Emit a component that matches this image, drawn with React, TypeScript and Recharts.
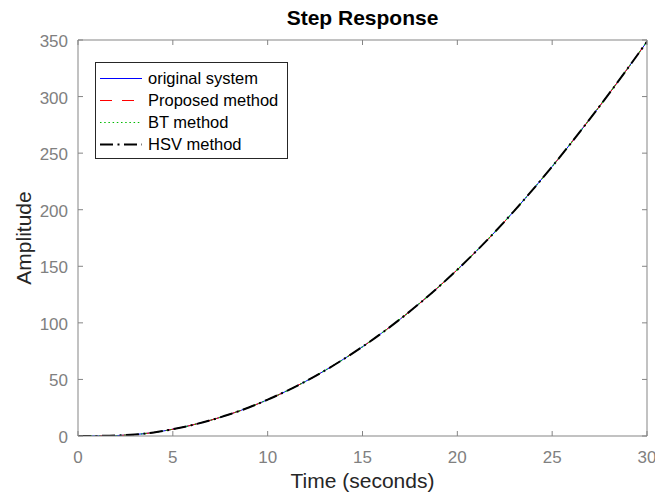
import { LineChart, Line, XAxis, YAxis, Legend, Label } from "recharts";

// step response samples, one per second
const time = [
  0, 1, 2, 3, 4, 5, 6, 7, 8, 9, 10, 11, 12, 13, 14, 15, 16, 17, 18, 19, 20,
  21, 22, 23, 24, 25, 26, 27, 28, 29, 30,
];
const original = [
  0, 0.1, 0.4, 1.3, 3.1, 6, 9.6, 14, 19.2, 25.2, 32.1, 39.8, 48.3, 57.7, 67.9,
  78.9, 90.8, 103.5, 117.1, 131.6, 147, 163.4, 180.7, 199, 218.2, 238.2, 259,
  280.5, 302.6, 325.3, 348.6,
];
const proposed = [
  0, 0.1, 0.4, 1.3, 3.1, 6, 9.6, 14, 19.2, 25.2, 32.1, 39.8, 48.3, 57.7, 67.9,
  78.9, 90.8, 103.5, 117.1, 131.6, 147, 163.4, 180.7, 199, 218.2, 238.2, 259,
  280.5, 302.6, 325.3, 348.6,
];
const bt = [
  0, 0.1, 0.4, 1.3, 3.1, 6, 9.6, 14, 19.2, 25.2, 32.1, 39.8, 48.3, 57.7, 67.9,
  78.9, 90.8, 103.5, 117.1, 131.6, 147, 163.4, 180.7, 199, 218.2, 238.2, 259,
  280.5, 302.6, 325.3, 348.6,
];
const hsv = [
  0, 0.1, 0.4, 1.3, 3.1, 6, 9.6, 14, 19.2, 25.2, 32.1, 39.8, 48.3, 57.7, 67.9,
  78.9, 90.8, 103.5, 117.1, 131.6, 147, 163.4, 180.7, 199, 218.2, 238.2, 259,
  280.5, 302.6, 325.3, 348.6,
];

const xTicks = [0, 5, 10, 15, 20, 25, 30];
const yTicks = [0, 50, 100, 150, 200, 250, 300, 350];

const data = time.map((t, i) => ({
  t,
  original: original[i],
  proposed: proposed[i],
  bt: bt[i],
  hsv: hsv[i],
}));

// the BT curve is tied to the top/right axes so those get drawn too (same domains)
const SERIES = [
  { key: "original", name: "original system", color: "#0000ff", width: 1, dash: undefined, xId: "bottom", yId: "left" },
  { key: "proposed", name: "Proposed method", color: "#ff0000", width: 1, dash: "12 10", xId: "bottom", yId: "left" },
  { key: "bt", name: "BT method", color: "#00bb00", width: 1.2, dash: "1.5 2.7", xId: "top", yId: "right" },
  { key: "hsv", name: "HSV method", color: "#000000", width: 2, dash: "13 4.5 2 4.5", xId: "bottom", yId: "left" },
];

const FONT = '"Liberation Sans", Arial, sans-serif';
const AXIS = "#858585";
const TICK_TEXT = "#808080";
const TICK_LEN = 5;

// MATLAB-style ticks: short marks pointing into the plot box
// eslint-disable-next-line @typescript-eslint/no-explicit-any
const BottomTick = ({ x, y, payload }: any) => (
  <g>
    <line x1={x} x2={x} y1={y} y2={y - TICK_LEN} stroke={AXIS} />
    <text x={x} y={y + 27} textAnchor="middle" fill={TICK_TEXT} fontSize={17}>
      {payload.value}
    </text>
  </g>
);

// eslint-disable-next-line @typescript-eslint/no-explicit-any
const LeftTick = ({ x, y, payload }: any) => (
  <g>
    <line x1={x} x2={x + TICK_LEN} y1={y} y2={y} stroke={AXIS} />
    <text x={x - 10} y={y + 7} textAnchor="end" fill={TICK_TEXT} fontSize={17}>
      {payload.value}
    </text>
  </g>
);

// eslint-disable-next-line @typescript-eslint/no-explicit-any
const TopTick = ({ x, y }: any) => (
  <line x1={x} x2={x} y1={y} y2={y + TICK_LEN} stroke={AXIS} />
);

// eslint-disable-next-line @typescript-eslint/no-explicit-any
const RightTick = ({ x, y }: any) => (
  <line x1={x} x2={x - TICK_LEN} y1={y} y2={y} stroke={AXIS} />
);

const LegendBox = () => (
  <div
    style={{
      border: "1px solid #262626",
      background: "#fff",
      padding: "4px 0 3px 4px",
      width: 193,
      boxSizing: "border-box",
      fontFamily: FONT,
    }}
  >
    {SERIES.map((s) => (
      <div
        key={s.key}
        style={{ display: "flex", alignItems: "center", height: 22, whiteSpace: "nowrap" }}
      >
        <svg width={42} height={10} style={{ flexShrink: 0 }}>
          <line
            x1={0}
            x2={42}
            y1={5.5}
            y2={5.5}
            stroke={s.color}
            strokeWidth={s.width}
            strokeDasharray={s.dash}
          />
        </svg>
        <span style={{ marginLeft: 6, fontSize: 16.5, color: "#000", lineHeight: "22px" }}>
          {s.name}
        </span>
      </div>
    ))}
  </div>
);

export default function App() {
  return (
    <div style={{ position: "absolute", left: 0, top: 0, fontFamily: FONT, background: "#fff" }}>
      <div
        style={{
          position: "absolute",
          left: 78,
          top: 5,
          width: 569,
          textAlign: "center",
          fontSize: 21,
          fontWeight: "bold",
          lineHeight: "26px",
          color: "#000",
          zIndex: 1,
        }}
      >
        Step Response
      </div>
      <LineChart
        width={655}
        height={493}
        data={data}
        margin={{ top: 39, right: 7, bottom: 0, left: 0 }}
        style={{ fontFamily: FONT }}
      >
        <XAxis
          xAxisId="bottom"
          orientation="bottom"
          dataKey="t"
          type="number"
          domain={[0, 30]}
          ticks={xTicks}
          height={57}
          tickLine={false}
          tickSize={0}
          tickMargin={0}
          tick={<BottomTick />}
          axisLine={{ stroke: AXIS }}
          allowDataOverflow
        >
          <Label
            value="Time (seconds)"
            position="insideBottom"
            offset={5}
            fill="#262626"
            fontSize={21}
          />
        </XAxis>
        <XAxis
          xAxisId="top"
          orientation="top"
          dataKey="t"
          type="number"
          domain={[0, 30]}
          ticks={xTicks}
          height={1}
          tickLine={false}
          tickSize={0}
          tickMargin={0}
          tick={<TopTick />}
          axisLine={{ stroke: AXIS }}
          allowDataOverflow
        />
        <YAxis
          yAxisId="left"
          orientation="left"
          type="number"
          domain={[0, 350]}
          ticks={yTicks}
          width={78}
          tickLine={false}
          tickSize={0}
          tickMargin={0}
          tick={<LeftTick />}
          axisLine={{ stroke: AXIS }}
          allowDataOverflow
        >
          <Label
            value="Amplitude"
            angle={-90}
            position="insideLeft"
            offset={24}
            fill="#262626"
            fontSize={21}
            style={{ textAnchor: "middle" }}
          />
        </YAxis>
        <YAxis
          yAxisId="right"
          orientation="right"
          type="number"
          domain={[0, 350]}
          ticks={yTicks}
          width={1}
          tickLine={false}
          tickSize={0}
          tickMargin={0}
          tick={<RightTick />}
          axisLine={{ stroke: AXIS }}
          allowDataOverflow
        />
        <Legend
          layout="vertical"
          align="center"
          verticalAlign="middle"
          wrapperStyle={{ left: 95, top: 62, width: 193 }}
          content={<LegendBox />}
        />
        {SERIES.map((s) => (
          <Line
            key={s.key}
            xAxisId={s.xId}
            yAxisId={s.yId}
            type="monotone"
            dataKey={s.key}
            name={s.name}
            stroke={s.color}
            strokeWidth={s.width}
            strokeDasharray={s.dash}
            dot={false}
            activeDot={false}
            isAnimationActive={false}
          />
        ))}
      </LineChart>
    </div>
  );
}
